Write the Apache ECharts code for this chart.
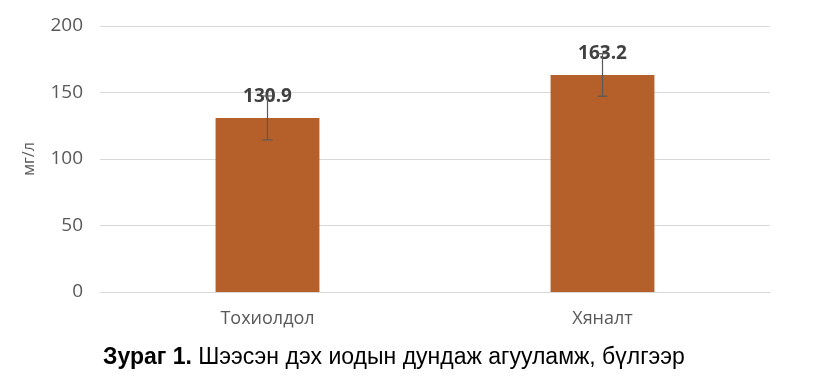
<!DOCTYPE html>
<html><head><meta charset="utf-8">
<script src="https://cdn.jsdelivr.net/npm/echarts@6/dist/echarts.min.js"></script>
<style>html,body{margin:0;padding:0;background:#fff}#c{width:819px;height:391px}</style>
</head><body><div id="c"></div>
<script>
const categories = ['Тохиолдол', 'Хяналт'];
const means = [130.9, 163.2];
const errors = [16.5, 16];
const yTicks = [0, 50, 100, 150, 200];
const yAxisName = 'мг/л';
const captionBold = 'Зураг 1.';
const captionText = ' Шээсэн дэх иодын дундаж агууламж, бүлгээр';

const chart = echarts.init(document.getElementById('c'));
const font = '"Open Sans", sans-serif';
chart.setOption({
  animation: false,
  grid: {left: 100, right: 49, top: 26, bottom: 99},
  xAxis: {
    type: 'category', data: categories,
    axisLine: {lineStyle: {color: '#d9d9d9', width: 1}},
    axisTick: {show: false},
    axisLabel: {color: '#595959', fontSize: 18, fontFamily: font, margin: 18}
  },
  yAxis: {
    type: 'value', min: yTicks[0], max: yTicks[yTicks.length-1], interval: 50,
    name: yAxisName, nameLocation: 'middle', nameGap: 63, nameRotate: 90,
    nameTextStyle: {color: '#595959', fontSize: 16, fontFamily: font},
    axisLine: {show: false}, axisTick: {show: false},
    axisLabel: {color: '#595959', fontSize: 19, fontFamily: font, margin: 17},
    splitLine: {lineStyle: {color: '#d9d9d9', width: 1}}
  },
  graphic: [{
    type: 'text', left: 103, top: 346,
    style: {
      rich: {
        b: {fontWeight: 'bold', fontSize: 23, fontFamily: '"Liberation Sans", Arial, sans-serif', fill: '#000'},
        n: {fontSize: 23, fontFamily: '"Liberation Sans", Arial, sans-serif', fill: '#000'}
      },
      text: '{b|' + captionBold + '}{n|' + captionText + '}'
    }
  }],
  series: [{
    type: 'bar', data: means, barWidth: '31%',
    itemStyle: {color: '#b5602a'},
    label: {show: true, position: 'top', distance: 12, color: '#404040', fontSize: 19, fontWeight: 'bold', fontFamily: font,
      formatter: p => p.value.toFixed(1)},
    z: 2
  }, {
    type: 'custom', z: 5,
    data: means.map((m, i) => [i, m - errors[i], m + errors[i]]),
    renderItem: (params, api) => {
      const lo = api.coord([api.value(0), api.value(1)]);
      const hi = api.coord([api.value(0), api.value(2)]);
      const hw = 5;
      const st = {stroke: '#595959', lineWidth: 1.2};
      return {type: 'group', children: [
        {type: 'line', shape: {x1: lo[0], y1: lo[1], x2: hi[0], y2: hi[1]}, style: st},
        {type: 'line', shape: {x1: lo[0]-hw, y1: lo[1], x2: lo[0]+hw, y2: lo[1]}, style: st},
        {type: 'line', shape: {x1: hi[0]-hw, y1: hi[1], x2: hi[0]+hw, y2: hi[1]}, style: st}
      ]};
    }
  }]
});
</script></body></html>
